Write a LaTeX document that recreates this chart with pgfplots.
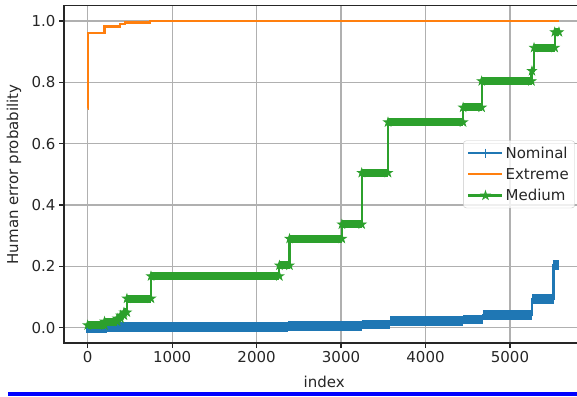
\documentclass[border=0pt]{standalone}
\usepackage{fontspec}
\setmainfont{DejaVu Sans}
\usepackage{pgfplots}
\pgfplotsset{compat=1.18}
\definecolor{c0}{HTML}{1F77B4}
\definecolor{c1}{HTML}{FF7F0E}
\definecolor{c2}{HTML}{2CA02C}
\definecolor{gridc}{HTML}{B0B0B0}
\pgfdeclareplotmark{fstar}{%
 \pgfpathmoveto{\pgfpointpolar{90}{\pgfplotmarksize}}%
 \pgfpathlineto{\pgfpointpolar{126}{0.382*\pgfplotmarksize}}%
 \pgfpathlineto{\pgfpointpolar{162}{\pgfplotmarksize}}%
 \pgfpathlineto{\pgfpointpolar{198}{0.382*\pgfplotmarksize}}%
 \pgfpathlineto{\pgfpointpolar{234}{\pgfplotmarksize}}%
 \pgfpathlineto{\pgfpointpolar{270}{0.382*\pgfplotmarksize}}%
 \pgfpathlineto{\pgfpointpolar{306}{\pgfplotmarksize}}%
 \pgfpathlineto{\pgfpointpolar{342}{0.382*\pgfplotmarksize}}%
 \pgfpathlineto{\pgfpointpolar{18}{\pgfplotmarksize}}%
 \pgfpathlineto{\pgfpointpolar{54}{0.382*\pgfplotmarksize}}%
 \pgfpathclose
 \pgfusepathqfillstroke}
\newcommand\fs{\fontsize{15}{18}\selectfont}
\begin{document}
\begin{tikzpicture}
\begin{axis}[
  at={(64pt,53pt)}, anchor=south west, scale only axis,
  width=520.3pt, height=337.3pt,
  xmin=-280, xmax=5880, ymin=-0.05, ymax=1.05,
  xtick={0,1000,2000,3000,4000,5000},
  ytick={0,0.2,0.4,0.6,0.8,1.0},
  scaled x ticks=false,
  xticklabel style={/pgf/number format/.cd, 1000 sep={}},
  yticklabel style={/pgf/number format/.cd, fixed, fixed zerofill, precision=1},
  /pgf/number format/assume math mode=true,
  tick label style={font=\fs, text=black!85},
  tick align=outside, tick pos=left,
  major tick length=5pt,
  tick style={black!85, line width=1.1pt},
  axis line style={black!85, line width=1.2pt},
  grid=major, major grid style={gridc, line width=1.1pt},
  xlabel={index}, ylabel={Human error probability},
  every axis x label/.style={at={(axis description cs:0.5,-0.1147)}, anchor=center, font=\fs, text=black!85},
  every axis y label/.style={at={(axis description cs:-0.0961,0.5)}, rotate=90, anchor=center, font=\fs, text=black!85},
  unbounded coords=jump,
  legend style={at={(0.982,0.5)}, anchor=east, draw=gridc!70, rounded corners=3pt,
    fill=white, fill opacity=0.8, text opacity=1, font=\fs, text=black!85,
    row sep=4.5pt, inner xsep=4pt, inner ysep=4pt},
  legend cell align=left,
  legend image code/.code={\draw[mark repeat=2,mark phase=2,#1] plot coordinates {(0pt,0pt) (17pt,0pt) (34pt,0pt)};},
]
\addlegendimage{c0, line width=2.2pt, mark=+, mark size=4.5pt, mark options={line width=1.5pt}}
\addlegendentry{Nominal}
\addlegendimage{c1, line width=2.2pt}
\addlegendentry{Extreme}
\addlegendimage{c2, line width=2.2pt, mark=fstar, mark size=4.5pt, mark options={line width=0.8pt, fill=c2}}
\addlegendentry{Medium}

% Nominal: step line
\addplot[c0, line width=2.2pt, const plot, forget plot] coordinates {
 (0,0.0) (230,0.002) (2370,0.0055) (3245,0.011) (3580,0.021) (4445,0.027)
 (4680,0.041) (5265,0.093) (5515,0.205) (5584,0.205)};
% Nominal: dense marker band
\addplot[c0, line width=9.5pt, line cap=butt, forget plot] coordinates {
 (-15,-0.002) (230,-0.002) (230,nan)
 (230,0.002) (2370,0.002) (2370,nan)
 (2370,0.0055) (3245,0.0055) (3245,nan)
 (3245,0.011) (3580,0.011) (3580,nan)
 (3580,0.021) (4445,0.021) (4445,nan)
 (4445,0.027) (4680,0.027) (4680,nan)
 (4680,0.041) (5262,0.041) (5262,nan)
 (5262,0.093) (5520,0.093) (5520,nan)
 (5505,0.205) (5584,0.205)};

% Extreme
\addplot[c1, line width=2.2pt, const plot, forget plot] coordinates {
 (0,0.715) (8,0.962) (200,0.982) (380,0.989) (440,0.995) (735,1.0) (5580,1.0)};

% Medium: step line
\addplot[c2, line width=2.2pt, const plot, forget plot] coordinates {
 (0,0.008) (200,0.02) (350,0.03) (390,0.04) (430,0.05) (465,0.095) (750,0.168)
 (2270,0.203) (2390,0.29) (3010,0.337) (3245,0.505) (3556,0.67) (4445,0.718)
 (4665,0.804) (5255,0.837) (5285,0.913) (5530,0.964) (5580,0.964)};
% Medium: dense marker band
\addplot[c2, line width=8pt, line cap=butt, forget plot, mark=fstar, mark size=4.5pt,
  mark options={solid, line width=0.8pt, fill=c2, draw=c2}] coordinates {
 (0,0.008) (200,0.008) (200,nan)
 (200,0.02) (350,0.02) (350,nan)
 (350,0.03) (390,0.03) (390,nan)
 (390,0.04) (430,0.04) (430,nan)
 (430,0.05) (465,0.05) (465,nan)
 (465,0.095) (750,0.095) (750,nan)
 (750,0.168) (2270,0.168) (2270,nan)
 (2270,0.203) (2390,0.203) (2390,nan)
 (2390,0.29) (3010,0.29) (3010,nan)
 (3010,0.337) (3245,0.337) (3245,nan)
 (3245,0.505) (3556,0.505) (3556,nan)
 (3556,0.67) (4445,0.67) (4445,nan)
 (4445,0.718) (4665,0.718) (4665,nan)
 (4665,0.804) (5255,0.804) (5255,nan)
 (5260,0.837) (5260,nan)
 (5285,0.913) (5530,0.913) (5530,nan)
 (5530,0.964) (5580,0.964)};
\end{axis}
\fill[blue] (8pt,0pt) rectangle (577pt,4pt);
\pgfresetboundingbox
\path[use as bounding box] (0pt,0pt) rectangle (577pt,396pt);
\end{tikzpicture}
\end{document}
